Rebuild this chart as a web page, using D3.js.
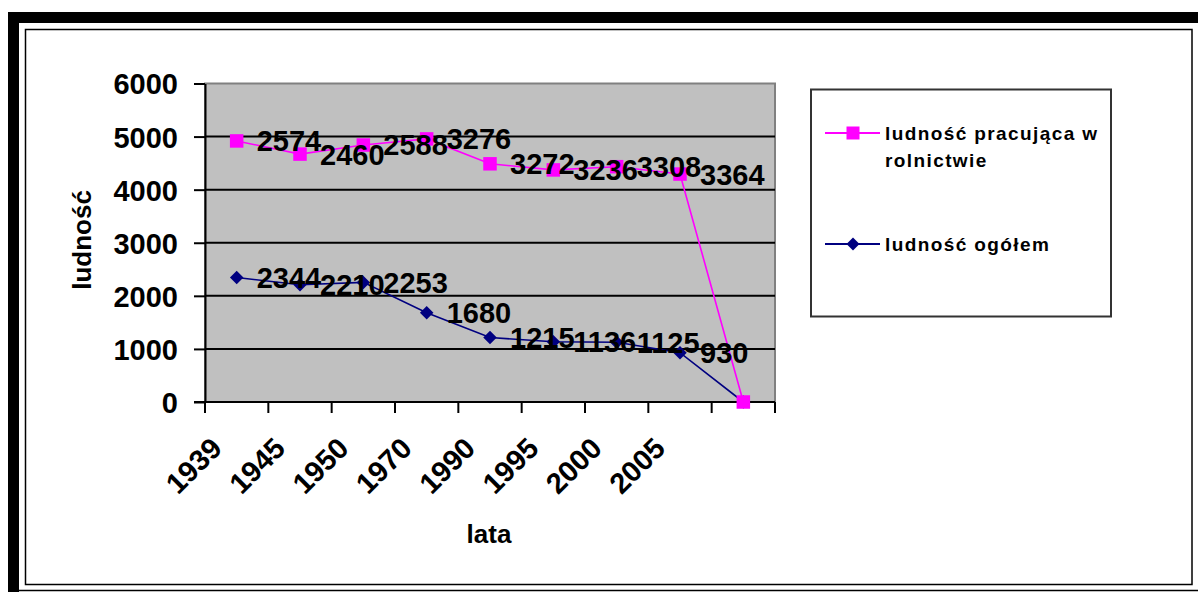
<!DOCTYPE html>
<html>
<head>
<meta charset="utf-8">
<script src="https://cdn.jsdelivr.net/npm/d3@7"></script>
<style>
  body { margin: 0; background: #fff; }
  svg text { font-family: "Liberation Sans", Arial, sans-serif; font-weight: bold; fill: #000; }
</style>
</head>
<body>
<svg id="chart" width="1198" height="592"></svg>
<script>
// dane
var lata = ["1939", "1945", "1950", "1970", "1990", "1995", "2000", "2005", ""];
var ogolem = [2344, 2210, 2253, 1680, 1215, 1136, 1125, 930, 0];
var rolnictwo = [2574, 2460, 2588, 3276, 3272, 3236, 3308, 3364, 0];
var yTicks = [0, 1000, 2000, 3000, 4000, 5000, 6000];
var serie = [
  { name: "ludność ogółem", color: "#000080", marker: "diamond", values: ogolem },
  { name: "ludność pracująca w rolnictwie", color: "#FF00FF", marker: "square", values: rolnictwo }
];

var svg = d3.select("#chart");

// ramka
svg.append("rect").attr("x", 8).attr("y", 12).attr("width", 1190).attr("height", 11).attr("fill", "#000");
svg.append("rect").attr("x", 8).attr("y", 12).attr("width", 11).attr("height", 580).attr("fill", "#000");
svg.append("line").attr("x1", 19).attr("x2", 1198).attr("y1", 590.5).attr("y2", 590.5)
  .attr("stroke", "#000").attr("stroke-width", 1.5);
svg.append("rect").attr("x", 25.5).attr("y", 29.5).attr("width", 1166.5).attr("height", 555)
  .attr("fill", "none").attr("stroke", "#000").attr("stroke-width", 1.5);

var plot = { x0: 205, x1: 775, y0: 83.5, y1: 402 };

var x = d3.scaleBand().domain(d3.range(lata.length)).range([plot.x0, plot.x1]);
var y = d3.scaleLinear().domain([0, 6000]).range([plot.y1, plot.y0]);

// tło obszaru wykresu
svg.append("rect")
  .attr("x", plot.x0).attr("y", plot.y0)
  .attr("width", plot.x1 - plot.x0).attr("height", plot.y1 - plot.y0)
  .attr("fill", "#C0C0C0").attr("stroke", "#808080").attr("stroke-width", 2);

// linie siatki
svg.append("g").selectAll("line")
  .data(yTicks.filter(function(t){ return t > 0 && t < 6000; }))
  .join("line")
  .attr("x1", plot.x0).attr("x2", plot.x1)
  .attr("y1", function(d){ return y(d); }).attr("y2", function(d){ return y(d); })
  .attr("stroke", "#000").attr("stroke-width", 2);

// oś Y
var yAxis = svg.append("g")
  .attr("transform", "translate(" + plot.x0 + ",0)")
  .call(d3.axisLeft(y).tickValues(yTicks).tickFormat(d3.format("d"))
    .tickSize(11).tickPadding(16).tickSizeOuter(0));
yAxis.select(".domain").attr("stroke", "#000").attr("stroke-width", 2);
yAxis.selectAll(".tick line").attr("stroke", "#000").attr("stroke-width", 2);
yAxis.selectAll(".tick text")
  .style("font-size", "29px").attr("dy", "0.36em");

// oś X
var xTicks = d3.range(lata.length + 1).map(function(i){ return plot.x0 + i * x.bandwidth(); });
svg.append("line")
  .attr("x1", plot.x0 - 11).attr("x2", plot.x1)
  .attr("y1", plot.y1).attr("y2", plot.y1)
  .attr("stroke", "#000").attr("stroke-width", 2);
svg.append("g").selectAll("line")
  .data(xTicks)
  .join("line")
  .attr("x1", function(d){ return d; }).attr("x2", function(d){ return d; })
  .attr("y1", plot.y1).attr("y2", plot.y1 + 11)
  .attr("stroke", "#000").attr("stroke-width", 2);

svg.append("g").selectAll("text")
  .data(lata)
  .join("text")
  .attr("transform", function(d, i){
    return "translate(" + (x(i) + x.bandwidth() / 2 - 13) + "," + 450 + ") rotate(-45)";
  })
  .attr("text-anchor", "end")
  .style("font-size", "29px")
  .text(function(d){ return d; });

// tytuły osi
svg.append("text")
  .attr("transform", "translate(91,240) rotate(-90)")
  .attr("text-anchor", "middle")
  .style("font-size", "26px")
  .text("ludność");
svg.append("text")
  .attr("x", 489).attr("y", 543)
  .attr("text-anchor", "middle")
  .style("font-size", "26px")
  .text("lata");

// wykres skumulowany: druga seria leży na pierwszej
var stacked = serie.map(function(s, k){
  return s.values.map(function(v, i){
    var base = 0;
    for(var j = 0; j < k; j++){ base += serie[j].values[i]; }
    return { i: i, raw: v, total: base + v };
  });
});

var line = d3.line()
  .x(function(d){ return x(d.i) + x.bandwidth() / 2; })
  .y(function(d){ return y(d.total); });

function markerPath(type, size){
  return type == "square" ? d3.symbol(d3.symbolSquare, size * size)() :
    "M0," + (-size / 2) + "L" + (size / 2) + ",0L0," + (size / 2) + "L" + (-size / 2) + ",0Z";
}

serie.forEach(function(s, k){
  var g = svg.append("g");
  g.append("path")
    .datum(stacked[k])
    .attr("d", line)
    .attr("fill", "none")
    .attr("stroke", s.color)
    .attr("stroke-width", 1.6);
  g.selectAll(".marker")
    .data(stacked[k])
    .join("path")
    .attr("class", "marker")
    .attr("transform", function(d){
      return "translate(" + (x(d.i) + x.bandwidth() / 2) + "," + y(d.total) + ")";
    })
    .attr("d", markerPath(s.marker, 13.5))
    .attr("fill", s.color);
});

// etykiety danych (wartości surowe)
serie.forEach(function(s, k){
  svg.append("g").selectAll("text")
    .data(stacked[k].filter(function(d){ return d.raw > 0; }))
    .join("text")
    .attr("x", function(d){ return x(d.i) + x.bandwidth() / 2 + 20; })
    .attr("y", function(d){ return y(d.total); })
    .attr("dy", "0.36em")
    .style("font-size", "29px")
    .text(function(d){ return d.raw; });
});

// legenda
var legend = svg.append("g");
legend.append("rect")
  .attr("x", 811).attr("y", 89.5).attr("width", 300).attr("height", 227)
  .attr("fill", "#fff").attr("stroke", "#333").attr("stroke-width", 2);

var legendItems = [
  { s: serie[1], y: 133, lines: ["ludność pracująca w", "rolnictwie"] },
  { s: serie[0], y: 244, lines: ["ludność ogółem"] }
];
legendItems.forEach(function(it){
  legend.append("line")
    .attr("x1", 825).attr("x2", 880).attr("y1", it.y).attr("y2", it.y)
    .attr("stroke", it.s.color).attr("stroke-width", 2);
  legend.append("path")
    .attr("transform", "translate(853," + it.y + ")")
    .attr("d", markerPath(it.s.marker, 13))
    .attr("fill", it.s.color);
  it.lines.forEach(function(t, n){
    legend.append("text")
      .attr("x", 885).attr("y", it.y + 7 + n * 27)
      .style("font-size", "19px")
      .style("letter-spacing", "1.4px")
      .text(t);
  });
});
</script>
</body>
</html>
